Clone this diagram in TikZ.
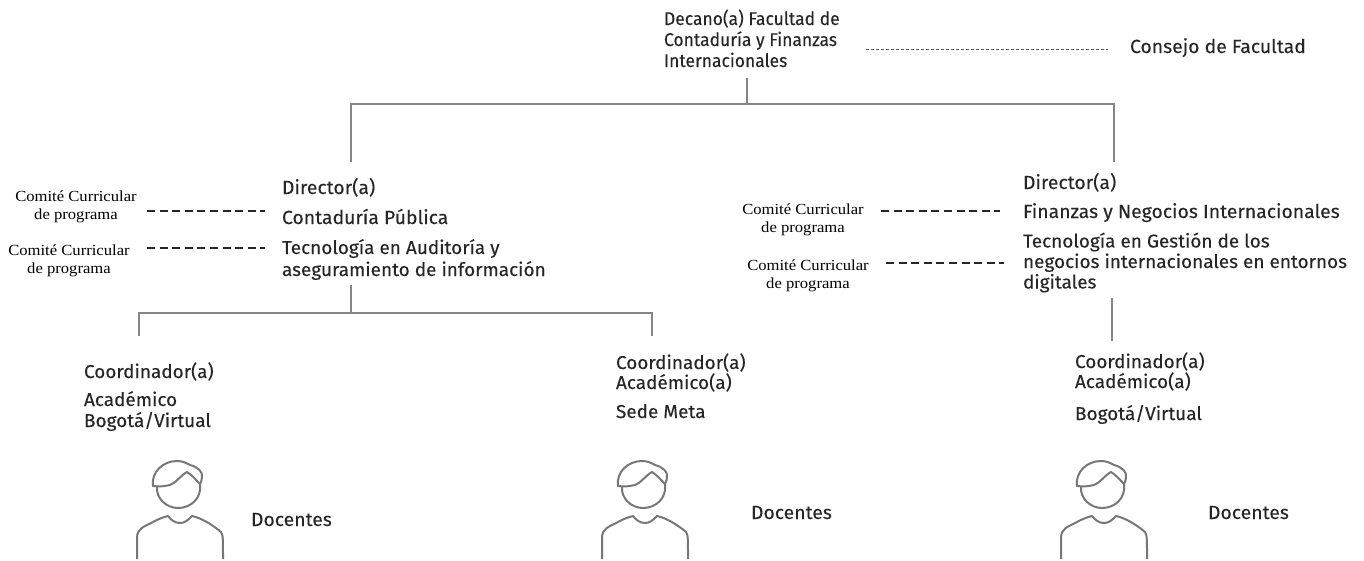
\documentclass[tikz,border=0pt]{standalone}
\usepackage{fontspec}
\setmainfont{Fira Sans}[FakeStretch=1.02,FakeBold=0.15]
\newfontfamily\deanfont{Fira Sans}[FakeStretch=0.95,FakeBold=0.15]
\newfontfamily\serifcom{Liberation Serif}[FakeStretch=1.08]
\definecolor{inkc}{HTML}{262626}
\definecolor{linec}{HTML}{858585}
\definecolor{iconc}{HTML}{777777}
\tikzset{
  x=1pt,y=-1pt,
  lab/.style={anchor=base west,inner sep=0pt,outer sep=0pt,text=inkc,font=\fontsize{19}{20}\selectfont},
  labsm/.style={lab,font=\fontsize{18.6}{20}\selectfont},
  dean/.style={anchor=base west,inner sep=0pt,outer sep=0pt,text=inkc,font=\deanfont\fontsize{18.4}{20}\selectfont},
  com/.style={anchor=center,inner sep=0pt,text=black,font=\serifcom\fontsize{15.4}{18}\selectfont,align=center},
  solidline/.style={draw=linec,line width=1.1pt},
  dashthin/.style={draw=black!65,line width=0.9pt,dash pattern=on 3.4pt off 1.6pt},
  dashthick/.style={draw=black!85,line width=1.3pt,dash pattern=on 8pt off 4.6pt},
  person/.pic={
    \draw[iconc,line width=2pt,line cap=round,line join=round]
      (-25,0) .. controls (-27,-14) and (-15,-25) .. (-1,-25)
      .. controls (5,-25) and (8,-23) .. (12,-21)
      .. controls (20,-19) and (25,-14) .. (24,-9)
      .. controls (24,-6) and (23,-4) .. (22,-2)
      .. controls (24,12) and (13,22) .. (0,22)
      .. controls (-12,22) and (-22,12) .. (-21,1);
    \draw[iconc,line width=2pt,line cap=round,line join=round]
      (-25,0) .. controls (-18,1) and (-13,0) .. (-8,-1)
      .. controls (-2,-3) and (3,-11) .. (9,-14)
      .. controls (14,-11) and (18,-6) .. (22,-2);
    \draw[iconc,line width=2pt,line join=round]
      (-41,73) -- (-41,52) .. controls (-41,42) and (-34,41) .. (-25,36)
      .. controls (-20,33) and (-14,31) .. (-10,30)
      .. controls (-7,34) and (-3,37) .. (2,37)
      .. controls (7,37) and (10,34) .. (14,30)
      .. controls (24,32) and (36,40) .. (43,46)
      .. controls (45,49) and (45,52) .. (45,73);
  }
}
\begin{document}
\begin{tikzpicture}
\useasboundingbox (0,0) rectangle (1364,560);
% top
\node[dean] (dec1) at (664,25) {Decano(a) Facultad de};
\node[dean] (dec2) at (664,46) {Contaduría y Finanzas};
\node[dean] (dec3) at (664,67) {Internacionales};
\node[lab] (cons) at (1130,53) {Consejo de Facultad};
\coordinate (da) at (866,49); \coordinate (db) at (1108,49);
\draw[dashthin] (da) -- (db);
\coordinate (t0) at (747,78); \coordinate (tj) at (747,104);
\coordinate (tl) at (351,104); \coordinate (tr) at (1114,104);
\coordinate (lb) at (351,162); \coordinate (rb) at (1114,162);
\draw[solidline] (t0) -- (tj);
\draw[solidline] (lb) -- (tl) -- (tr) -- (rb);
% left director
\node[lab] (dl1) at (282,194) {Director(a)};
\node[lab] (dl2) at (282,224) {Contaduría Pública};
\node[labsm] (dl3) at (282,254) {Tecnología en Auditoría y};
\node[labsm] (dl4) at (282,276) {aseguramiento de información};
\node[com] (cl1) at (76,207) {Comité Curricular\\de programa};
\node[com] (cl2) at (69,261) {Comité Curricular\\de programa};
\coordinate (a1) at (147,211); \coordinate (a2) at (265,211);
\coordinate (b1) at (147,248); \coordinate (b2) at (265,248);
\draw[dashthick] (a1) -- (a2);
\draw[dashthick] (b1) -- (b2);
% left tree
\coordinate (l0) at (351,285); \coordinate (lj) at (351,313);
\coordinate (ll) at (139,313); \coordinate (lr) at (652,313);
\coordinate (ll2) at (139,336); \coordinate (lr2) at (652,336);
\draw[solidline] (l0) -- (lj);
\draw[solidline] (ll2) -- (ll) -- (lr) -- (lr2);
% right director
\node[lab] (dr1) at (1023,189) {Director(a)};
\node[lab] (dr2) at (1023,218) {Finanzas y Negocios Internacionales};
\node[labsm] (dr3) at (1023,247.5) {Tecnología en Gestión de los};
\node[labsm] (dr4) at (1023,268) {negocios internacionales en entornos};
\node[labsm] (dr5) at (1023,288.5) {digitales};
\node[com] (cr1) at (803,220) {Comité Curricular\\de programa};
\node[com] (cr2) at (808,276) {Comité Curricular\\de programa};
\coordinate (c1) at (881,211); \coordinate (c2) at (1000,211);
\coordinate (e1) at (886,263); \coordinate (e2) at (1004,263);
\draw[dashthick] (c1) -- (c2);
\draw[dashthick] (e1) -- (e2);
\coordinate (r0) at (1112,298); \coordinate (r1) at (1112,341);
\draw[solidline] (r0) -- (r1);
% coordinators
\node[labsm] (k11) at (84,378) {Coordinador(a)};
\node[labsm] (k12) at (84,406) {Académico};
\node[labsm] (k13) at (84,427) {Bogotá/Virtual};
\node[labsm] (k21) at (616,369) {Coordinador(a)};
\node[labsm] (k22) at (616,389) {Académico(a)};
\node[labsm] (k23) at (616,418) {Sede Meta};
\node[labsm] (k31) at (1075,368) {Coordinador(a)};
\node[labsm] (k32) at (1075,388) {Académico(a)};
\node[labsm] (k33) at (1075,420) {Bogotá/Virtual};
% people
\pic at (178,486) {person};
\pic at (643,486) {person};
\pic at (1102,486) {person};
\node[lab] (doc1) at (251,526) {Docentes};
\node[lab] (doc2) at (751,519) {Docentes};
\node[lab] (doc3) at (1208,519) {Docentes};
\end{tikzpicture}
\end{document}
